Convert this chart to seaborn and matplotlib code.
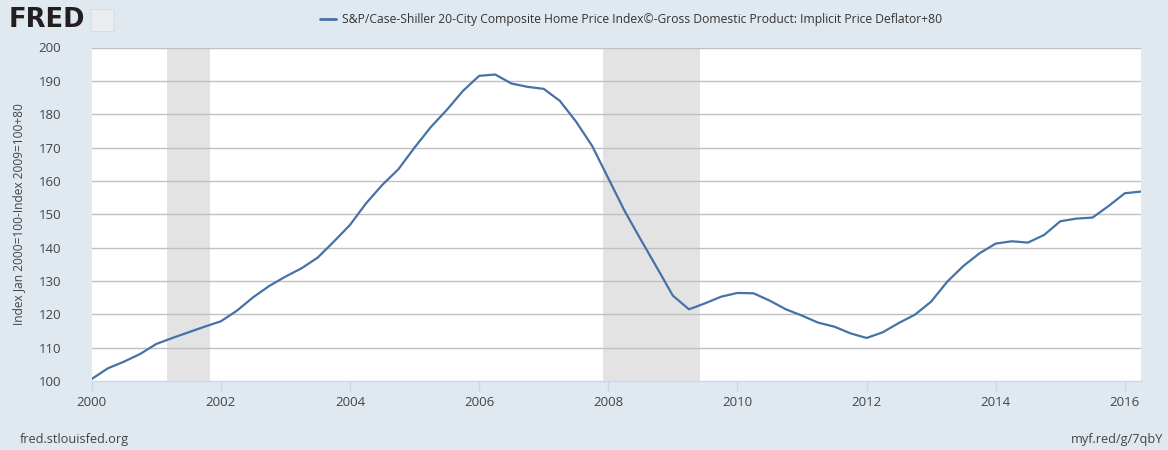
import numpy as np
import pandas as pd
import matplotlib
matplotlib.use("Agg")
import matplotlib.pyplot as plt
import matplotlib.patches as mpatches
import seaborn as sns

# ---- data (quarterly, 2000Q1 .. 2016Q2) ----
start_year = 2000
values = [
    100.6, 103.8, 105.8, 108.1,   # 2000
    111.1, 112.9, 114.6, 116.3,   # 2001
    117.9, 121.1, 125.1, 128.5,   # 2002
    131.3, 133.8, 137.0, 141.8,   # 2003
    146.8, 153.3, 158.8, 163.5,   # 2004
    170.0, 176.1, 181.3, 187.0,   # 2005
    191.5, 191.9, 189.2, 188.2,   # 2006
    187.6, 184.0, 177.8, 170.5,   # 2007
    160.8, 151.1, 142.5, 134.1,   # 2008
    125.6, 121.5, 123.3, 125.3,   # 2009
    126.4, 126.3, 124.1, 121.5,   # 2010
    119.6, 117.5, 116.3, 114.3,   # 2011
    112.9, 114.6, 117.4, 119.9,   # 2012
    123.8, 129.8, 134.5, 138.3,   # 2013
    141.2, 141.9, 141.5, 143.8,   # 2014
    147.9, 148.7, 149.0, 152.5,   # 2015
    156.3, 156.8,                 # 2016
]
dates = [start_year + 0.25 * i for i in range(len(values))]

recession_starts = [2001.16, 2007.92]
recession_ends = [2001.83, 2009.42]

x_ticks = [2000, 2002, 2004, 2006, 2008, 2010, 2012, 2014, 2016]
y_ticks = [100, 110, 120, 130, 140, 150, 160, 170, 180, 190, 200]

series_label = ("S&P/Case-Shiller 20-City Composite Home Price Index\u00a9-Gross "
                "Domestic Product: Implicit Price Deflator+80")
y_label = "Index Jan 2000=100-Index 2009=100+80"

df = pd.DataFrame({"date": dates, "value": values})

# ---- style ----
BG = "#e1e9f0"
LINE = "#4572a7"
GRID = "#c0c0c0"
TXT = "#444444"

sns.set_theme(style="white")
plt.rcParams["font.family"] = ["Open Sans", "DejaVu Sans"]

fig = plt.figure(figsize=(11.68, 4.5), dpi=100, facecolor=BG)
ax = fig.add_axes([91.7 / 1168, 1 - 381 / 450, (1141 - 91.7) / 1168, (381 - 47.5) / 450])
ax.set_facecolor("white")

for s, e in zip(recession_starts, recession_ends):
    ax.axvspan(s, e, color="#e3e3e3", lw=0, zorder=0)

for yv in y_ticks[1:]:
    ax.axhline(yv, color=GRID, lw=1.0, zorder=1)

sns.lineplot(data=df, x="date", y="value", ax=ax, color=LINE, lw=1.6, zorder=3)

ax.set_xlim(dates[0], dates[-1])
ax.set_ylim(100, 200)
ax.set_xticks(x_ticks)
ax.set_xticklabels([str(t) for t in x_ticks])
ax.set_yticks(y_ticks)
ax.set_yticklabels([str(t) for t in y_ticks])
ax.set_xlabel("")
ax.set_ylabel(y_label, fontsize=8.6, color=TXT, labelpad=10)

for side in ["top", "right", "left"]:
    ax.spines[side].set_visible(False)
ax.spines["bottom"].set_color("#ccd6eb")
ax.spines["bottom"].set_linewidth(1.0)
ax.tick_params(axis="x", length=7, width=1, color="#ccd6eb", pad=4,
               labelsize=9.5, labelcolor=TXT, direction="out", bottom=True)
ax.tick_params(axis="y", length=0, pad=22, labelsize=9.5, labelcolor=TXT, left=False)

# header legend
fig.lines.append(plt.Line2D([320 / 1168, 336 / 1168], [1 - 19 / 450] * 2,
                            transform=fig.transFigure, color=LINE, lw=2))
title = fig.text(342 / 1168, 1 - 19 / 450, series_label, ha="left", va="center",
                 fontsize=9.0, color="#333333")
fig.canvas.draw()
w = title.get_window_extent().width
title.set_fontsize(9.0 * 608.0 / w)

# FRED logo
fig.text(9 / 1168, 1 - 20 / 450, "FRED", ha="left", va="center", fontsize=18.5,
         fontweight="bold", color="#231f20", family=["DejaVu Sans"])
fig.patches.append(mpatches.FancyBboxPatch((92 / 1168, 1 - 31 / 450), 21 / 1168, 21 / 450,
                   boxstyle="round,pad=0.001", transform=fig.transFigure,
                   facecolor="#e9edf0", edgecolor="#d0d6dc", lw=0.5))

# footers
fig.text(20 / 1168, 1 - 440 / 450, "fred.stlouisfed.org", ha="left", va="center",
         fontsize=9.2, color=TXT)
fig.text(1163 / 1168, 1 - 440 / 450, "myf.red/g/7qbY", ha="right", va="center",
         fontsize=9.2, color=TXT)

fig.savefig("out.png", dpi=100, facecolor=BG)
